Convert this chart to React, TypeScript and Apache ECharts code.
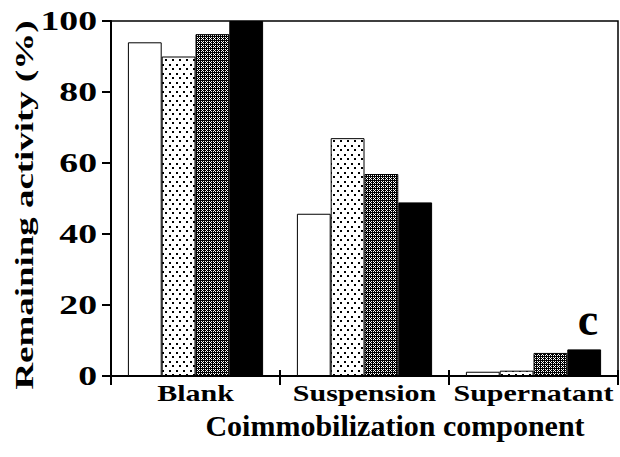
import React, { useEffect, useRef } from "react";
import * as echarts from "echarts";

const categories = ["Blank", "Suspension", "Supernatant"];
const seriesWhite = [94, 45.7, 1.2];
const seriesDotted = [90, 67, 1.5];
const seriesHatched = [96.3, 56.9, 6.5];
const seriesBlack = [100, 48.9, 7.5];
const yTicks = [0, 20, 40, 60, 80, 100];
const yMin = 0;
const yMax = 100;
const yInterval = 20;
const xName = "Coimmobilization component";
const yName = "Remaining activity (%)";
const panelLetter = "c";

function makeDots(): HTMLCanvasElement {
  const c = document.createElement("canvas");
  c.width = 7;
  c.height = 9;
  const ctx = c.getContext("2d")!;
  ctx.fillStyle = "#fff";
  ctx.fillRect(0, 0, 7, 9);
  ctx.fillStyle = "#000";
  ctx.fillRect(1, 1, 2, 2);
  ctx.fillRect(4, 5, 2, 2);
  return c;
}

function makeHatch(): HTMLCanvasElement {
  const c = document.createElement("canvas");
  c.width = 4;
  c.height = 4;
  const ctx = c.getContext("2d")!;
  ctx.fillStyle = "#fff";
  ctx.fillRect(0, 0, 4, 4);
  ctx.fillStyle = "#000";
  ctx.fillRect(0, 0, 4, 1);
  ctx.fillRect(0, 0, 1, 4);
  ctx.fillRect(2, 1, 1, 1);
  ctx.fillRect(1, 2, 1, 1);
  ctx.fillRect(3, 2, 1, 1);
  ctx.fillRect(2, 3, 1, 1);
  return c;
}

export default function App() {
  const ref = useRef<HTMLDivElement>(null);
  useEffect(() => {
    document.body.style.margin = "0";
    if (!ref.current) return;
    const chart = echarts.init(ref.current, undefined, { renderer: "svg" });
    const dots = makeDots();
    const hatch = makeHatch();
    const font = "Liberation Serif";
    const gridLeft = 111;
    const barBase = {
      type: "bar" as const,
      barGap: "0%",
      barCategoryGap: "20%",
      xAxisIndex: 0,
    };
    chart.setOption({
      animation: false,
      backgroundColor: "#fff",
      grid: {
        left: gridLeft,
        right: 2,
        top: 21,
        bottom: 81,
        show: true,
        borderColor: "#000",
        borderWidth: 1.5,
        backgroundColor: "transparent",
      },
      xAxis: [
        {
          type: "category",
          data: categories,
          position: "bottom",
          axisLine: { lineStyle: { color: "#000", width: 2 } },
          axisTick: { show: true, length: 9, inside: false, lineStyle: { color: "#000", width: 2 } },
          axisLabel: { show: false },
          splitLine: { show: false },
        },
        {
          type: "category",
          data: categories,
          position: "bottom",
          axisLine: { show: false },
          axisTick: { show: true, length: 6, inside: true, lineStyle: { color: "#000", width: 2 } },
          axisLabel: { show: false },
          splitLine: { show: false },
        },
      ],
      yAxis: {
        type: "value",
        min: yMin,
        max: yMax,
        interval: yInterval,
        axisLine: { show: true, lineStyle: { color: "#000", width: 2 } },
        axisTick: { show: true, length: 9, lineStyle: { color: "#000", width: 2 } },
        axisLabel: { show: false },
        splitLine: { show: false },
      },
      series: [
        {
          ...barBase,
          data: seriesWhite,
          itemStyle: { color: "#fff", borderColor: "#000", borderWidth: 1 },
        },
        {
          ...barBase,
          data: seriesDotted,
          itemStyle: {
            color: { image: dots, repeat: "repeat", imageWidth: 7, imageHeight: 9 } as any,
            borderColor: "#000",
            borderWidth: 1,
          },
        },
        {
          ...barBase,
          data: seriesHatched,
          itemStyle: {
            color: { image: hatch, repeat: "repeat", imageWidth: 4, imageHeight: 4 } as any,
            borderColor: "#000",
            borderWidth: 1,
          },
        },
        {
          ...barBase,
          data: seriesBlack,
          itemStyle: { color: "#000", borderColor: "#000", borderWidth: 1 },
        },
      ],
    });

    const axisY = chart.convertToPixel({ yAxisIndex: 0 }, 0) as number;
    const tickTexts = yTicks.map((v) => ({
      type: "text",
      x: gridLeft - 14,
      y: chart.convertToPixel({ yAxisIndex: 0 }, v) as number,
      scaleX: 1.45,
      scaleY: 1.05,
      style: {
        text: String(v),
        fill: "#000",
        font: `bold 26px "${font}"`,
        textAlign: "right",
        textVerticalAlign: "middle",
      },
    }));
    const catTexts = categories.map((c) => ({
      type: "text",
      x: chart.convertToPixel({ xAxisIndex: 0 }, c) as number,
      y: axisY + 17,
      scaleX: 1.25,
      style: {
        text: c,
        fill: "#000",
        font: `bold 24px "${font}"`,
        textAlign: "center",
        textVerticalAlign: "middle",
      },
    }));

    chart.setOption({
      graphic: [
        ...tickTexts,
        ...catTexts,
        {
          type: "text",
          x: 395,
          y: 440,
          style: {
            text: xName,
            fill: "#000",
            font: `bold 30px "${font}"`,
            textAlign: "center",
            textVerticalAlign: "bottom",
          },
        },
        {
          type: "text",
          x: 24,
          y: 205,
          rotation: Math.PI / 2,
          scaleX: 1.42,
          style: {
            text: yName,
            fill: "#000",
            font: `bold 26px "${font}"`,
            textAlign: "center",
            textVerticalAlign: "middle",
          },
        },
        {
          type: "text",
          x: 588,
          y: 342,
          style: {
            text: panelLetter,
            fill: "#000",
            font: `bold 46px "${font}"`,
            textAlign: "center",
            textVerticalAlign: "bottom",
          },
        },
      ],
    });
    return () => chart.dispose();
  }, []);
  return <div ref={ref} style={{ width: 620, height: 457 }} />;
}
